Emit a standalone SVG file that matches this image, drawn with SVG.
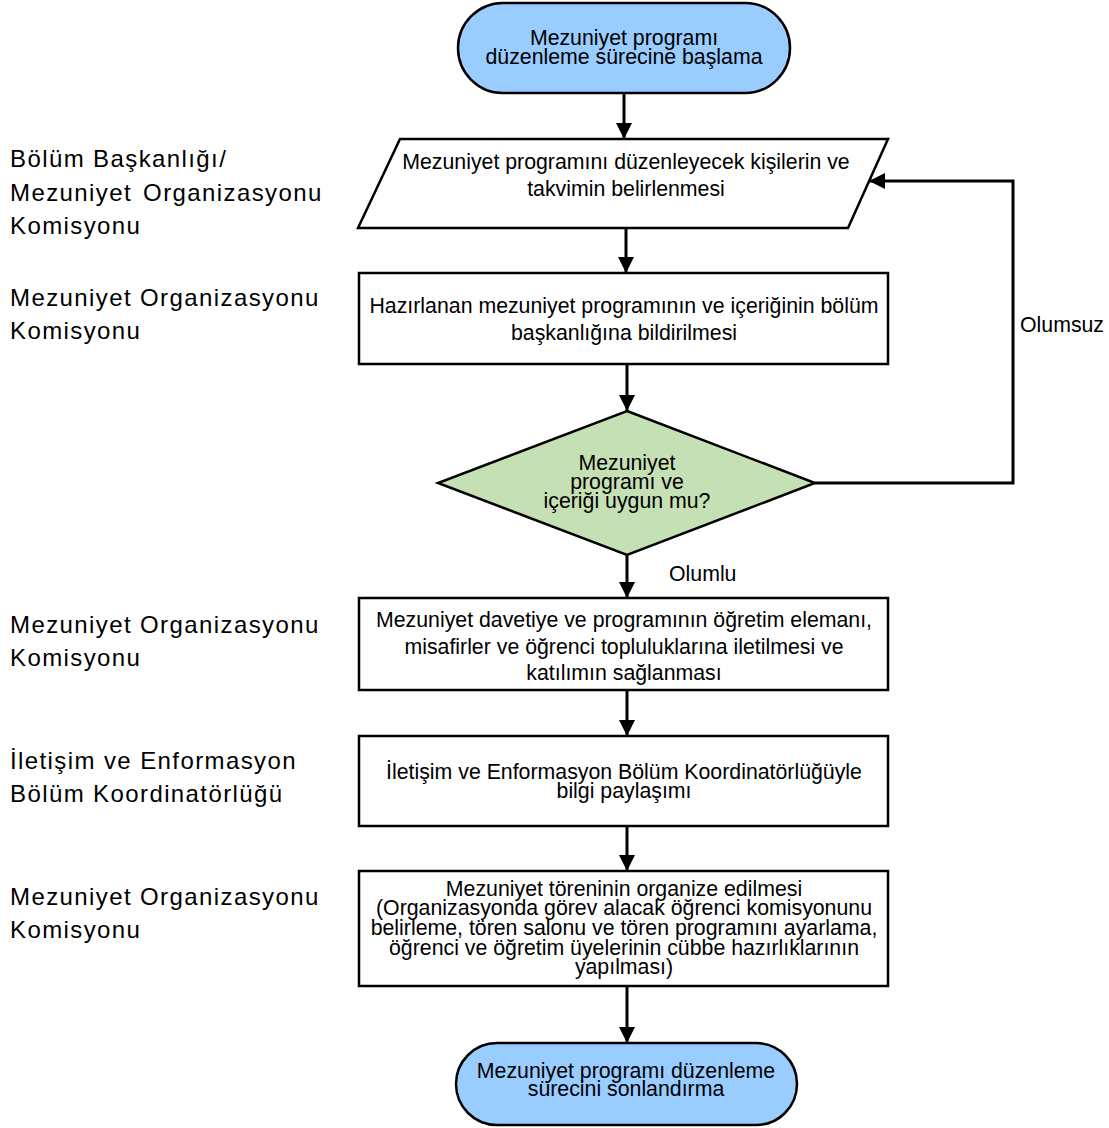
<svg xmlns="http://www.w3.org/2000/svg" width="1109" height="1128" viewBox="0 0 1109 1128">
<defs>
<marker id="ah" markerUnits="userSpaceOnUse" markerWidth="16" markerHeight="16" viewBox="0 0 16 16" refX="16" refY="8" orient="auto">
<path d="M0,0 L16,8 L0,16 Z" fill="#000"/>
</marker>
<style>
.shape{stroke:#000;stroke-width:2.5;}
.box{fill:#fff;}
.term{fill:#99ccff;}
.dec{fill:#c5e0b4;}
.t{font-family:"Liberation Sans",Arial,sans-serif;font-size:21.3px;fill:#000;text-anchor:middle;}
.lab{font-family:"Liberation Sans",Arial,sans-serif;font-size:24px;fill:#000;letter-spacing:1.4px;}
.el{font-family:"Liberation Sans",Arial,sans-serif;font-size:21.3px;fill:#000;}
.c{fill:none;stroke:#000;stroke-width:3;marker-end:url(#ah);}
</style>
</defs>
<rect width="1109" height="1128" fill="#fff"/>

<g id="lane-labels">
<text class="lab" x="10" y="167">Bölüm Başkanlığı/</text>
<text class="lab" x="10" y="201">Mezuniyet <tspan dx="3">Organizasyonu</tspan></text>
<text class="lab" x="10" y="234">Komisyonu</text>
<text class="lab" x="10" y="306">Mezuniyet Organizasyonu</text>
<text class="lab" x="10" y="339">Komisyonu</text>
<text class="lab" x="10" y="633">Mezuniyet Organizasyonu</text>
<text class="lab" x="10" y="666">Komisyonu</text>
<text class="lab" x="10" y="769">İletişim ve Enformasyon</text>
<text class="lab" x="10" y="802">Bölüm Koordinatörlüğü</text>
<text class="lab" x="10" y="905">Mezuniyet Organizasyonu</text>
<text class="lab" x="10" y="938">Komisyonu</text>
</g>

<g id="connectors">
<path class="c" d="M624,93 L624,139"/>
<path class="c" d="M626,228 L626,273"/>
<path class="c" d="M627,364 L627,411"/>
<path class="c" d="M627,555 L627,598"/>
<path class="c" d="M627,690 L627,736"/>
<path class="c" d="M627,826 L627,871"/>
<path class="c" d="M627,986 L627,1043"/>
<path class="c" d="M815,483 L1013,483 L1013,181 L869,181"/>
<text class="el" x="669" y="581">Olumlu</text>
<text class="el" x="1020" y="332">Olumsuz</text>
</g>

<g id="start">
<rect class="shape term" x="458" y="3" width="332" height="90" rx="45" ry="45"/>
<text class="t" x="624" y="45">Mezuniyet programı</text>
<text class="t" x="624" y="64">düzenleme sürecine başlama</text>
</g>

<g id="step1">
<polygon class="shape box" points="400,139 888,139 848,228 358,228"/>
<text class="t" x="626" y="169">Mezuniyet programını düzenleyecek kişilerin ve</text>
<text class="t" x="626" y="196">takvimin belirlenmesi</text>
</g>

<g id="step2">
<rect class="shape box" x="359" y="273" width="529" height="91"/>
<text class="t" x="624" y="313">Hazırlanan mezuniyet programının ve içeriğinin bölüm</text>
<text class="t" x="624" y="340">başkanlığına bildirilmesi</text>
</g>

<g id="decision">
<polygon class="shape dec" points="627,411 815,483 627,555 438,483"/>
<text class="t" x="627" y="470">Mezuniyet</text>
<text class="t" x="627" y="489">programı ve</text>
<text class="t" x="627" y="508">içeriği uygun mu?</text>
</g>

<g id="step3">
<rect class="shape box" x="359" y="598" width="529" height="92"/>
<text class="t" x="624" y="627">Mezuniyet davetiye ve programının öğretim elemanı,</text>
<text class="t" x="624" y="654">misafirler ve öğrenci topluluklarına iletilmesi ve</text>
<text class="t" x="624" y="680">katılımın sağlanması</text>
</g>

<g id="step4">
<rect class="shape box" x="359" y="736" width="529" height="90"/>
<text class="t" x="624" y="779">İletişim ve Enformasyon Bölüm Koordinatörlüğüyle</text>
<text class="t" x="624" y="798">bilgi paylaşımı</text>
</g>

<g id="step5">
<rect class="shape box" x="359" y="871" width="529" height="115"/>
<text class="t" x="624" y="896">Mezuniyet töreninin organize edilmesi</text>
<text class="t" x="624" y="915">(Organizasyonda görev alacak öğrenci komisyonunu</text>
<text class="t" x="624" y="935">belirleme, tören salonu ve tören programını ayarlama,</text>
<text class="t" x="624" y="955">öğrenci ve öğretim üyelerinin cübbe hazırlıklarının</text>
<text class="t" x="624" y="974">yapılması)</text>
</g>

<g id="end">
<rect class="shape term" x="456" y="1043" width="341" height="82" rx="41" ry="41"/>
<text class="t" x="626" y="1078">Mezuniyet programı düzenleme</text>
<text class="t" x="626" y="1096">sürecini sonlandırma</text>
</g>
</svg>
